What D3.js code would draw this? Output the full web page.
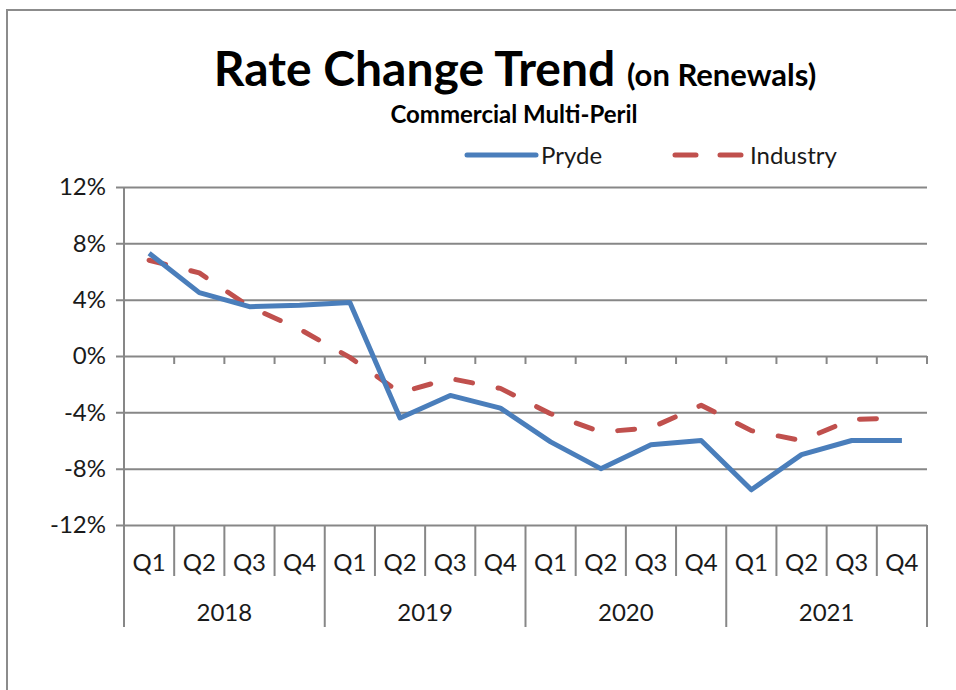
<!DOCTYPE html>
<html>
<head>
<meta charset="utf-8">
<script src="https://cdn.jsdelivr.net/npm/d3@7"></script>
<style>
  body { margin: 0; background: #fff; }
  svg { display: block; font-family: Lato, "Open Sans", sans-serif; }
</style>
</head>
<body>
<div id="chart"></div>
<script>
// Rate change trend, quarterly, two series
const years = ['2018', '2019', '2020', '2021'];
const quarters = ['Q1', 'Q2', 'Q3', 'Q4'];
const pryde = [7.3, 4.5, 3.5, 3.6, 3.8, -4.4, -2.8, -3.7, -6.1, -8.0, -6.3, -6.0, -9.5, -7.0, -6.0, -6.0];
const industry = [6.8, 5.9, 3.5, 1.9, -0.1, -2.6, -1.6, -2.3, -4.1, -5.4, -5.1, -3.5, -5.3, -6.0, -4.5, -4.4];
const yTicks = [12, 8, 4, 0, -4, -8, -12];

const width = 956, height = 690;
const plot = { left: 124, right: 927, top: 187, bottom: 525 };
const axisGrey = '#878787';
const labelSize = 24;

const svg = d3.select('#chart').append('svg')
    .attr('width', width)
    .attr('height', height);

// outer chart frame (runs off the right and bottom of the picture)
svg.append('rect')
    .attr('x', 7).attr('y', 10)
    .attr('width', 980).attr('height', 720)
    .attr('fill', 'none')
    .attr('stroke', '#8c8c8c')
    .attr('stroke-width', 2);

// one slot per quarter
const slots = years.flatMap(y => quarters.map(q => ({ year: y, q: q, key: y + q })));

const x = d3.scaleBand(slots.map(d => d.key), [plot.left, plot.right]);
const y = d3.scaleLinear([-12, 12], [plot.bottom, plot.top]);
const cx = i => x(slots[i].key) + x.bandwidth() / 2;

// titles
const title = svg.append('text')
    .attr('x', 515).attr('y', 86)
    .attr('text-anchor', 'middle')
    .attr('font-weight', 'bold')
    .attr('fill', '#000');
title.append('tspan').attr('font-size', 48).text('Rate Change Trend ');
title.append('tspan').attr('font-size', 31).text('(on Renewals)');

svg.append('text')
    .attr('x', 514).attr('y', 123)
    .attr('text-anchor', 'middle')
    .attr('font-weight', 'bold')
    .attr('font-size', 24)
    .text('Commercial Multi-Peril');

// gridlines + left axis
const yAxis = d3.axisLeft(y)
    .tickValues(yTicks)
    .tickSize(-(plot.right - plot.left))
    .tickSizeOuter(0)
    .tickPadding(18)
    .tickFormat(d => d + '%');

const gy = svg.append('g')
    .attr('transform', `translate(${plot.left},0)`)
    .call(yAxis);
gy.select('.domain').remove();
gy.selectAll('.tick line')
    .attr('x1', -8)
    .attr('stroke', axisGrey)
    .attr('stroke-width', 2);
gy.selectAll('.tick text')
    .attr('font-size', labelSize)
    .attr('fill', '#1a1a1a')
    .attr('font-family', 'Lato, sans-serif');

// vertical axis line, down through the category block
svg.append('line')
    .attr('x1', plot.left).attr('x2', plot.left)
    .attr('y1', plot.top).attr('y2', 627)
    .attr('stroke', axisGrey).attr('stroke-width', 2);

// small ticks under the 0% line at every slot boundary
const bounds = slots.map(d => x(d.key)).concat([plot.right]);
svg.append('g')
    .selectAll('line')
    .data(bounds.slice(1))
    .join('line')
    .attr('x1', d => d).attr('x2', d => d)
    .attr('y1', y(0)).attr('y2', y(0) + 8)
    .attr('stroke', axisGrey).attr('stroke-width', 2);

// category block: quarter and year dividers
svg.append('g')
    .selectAll('line')
    .data(bounds)
    .join('line')
    .attr('x1', d => d).attr('x2', d => d)
    .attr('y1', plot.bottom)
    .attr('y2', (d, i) => i % 4 === 0 ? 627 : 576)
    .attr('stroke', axisGrey).attr('stroke-width', 2);

svg.append('g')
    .selectAll('text')
    .data(slots)
    .join('text')
    .attr('x', (d, i) => cx(i))
    .attr('y', 571)
    .attr('text-anchor', 'middle')
    .attr('font-size', labelSize)
    .attr('fill', '#1a1a1a')
    .text(d => d.q);

svg.append('g')
    .selectAll('text')
    .data(years)
    .join('text')
    .attr('x', (d, i) => (bounds[i * 4] + bounds[i * 4 + 4]) / 2)
    .attr('y', 621)
    .attr('text-anchor', 'middle')
    .attr('font-size', labelSize)
    .attr('fill', '#1a1a1a')
    .text(d => d);

// series lines
const line = d3.line()
    .x((d, i) => cx(i))
    .y(d => y(d));

svg.append('path')
    .datum(industry)
    .attr('d', line)
    .attr('fill', 'none')
    .attr('stroke', '#c0504d')
    .attr('stroke-width', 5)
    .attr('stroke-linecap', 'round')
    .attr('stroke-linejoin', 'round')
    .attr('stroke-dasharray', '17,26');

svg.append('path')
    .datum(pryde)
    .attr('d', line)
    .attr('fill', 'none')
    .attr('stroke', '#4a7ebb')
    .attr('stroke-width', 5)
    .attr('stroke-linejoin', 'round');

// legend
const legend = svg.append('g');
legend.append('line')
    .attr('x1', 467).attr('x2', 536)
    .attr('y1', 155).attr('y2', 155)
    .attr('stroke', '#4a7ebb').attr('stroke-width', 5)
    .attr('stroke-linecap', 'round');
legend.append('text')
    .attr('x', 541).attr('y', 164)
    .attr('font-size', labelSize)
    .attr('fill', '#1a1a1a')
    .text('Pryde');
legend.append('line')
    .attr('x1', 675).attr('x2', 742)
    .attr('y1', 155).attr('y2', 155)
    .attr('stroke', '#c0504d').attr('stroke-width', 5)
    .attr('stroke-linecap', 'round')
    .attr('stroke-dasharray', '21,24');
legend.append('text')
    .attr('x', 750).attr('y', 164)
    .attr('font-size', labelSize)
    .attr('fill', '#1a1a1a')
    .text('Industry');
</script>
</body>
</html>
